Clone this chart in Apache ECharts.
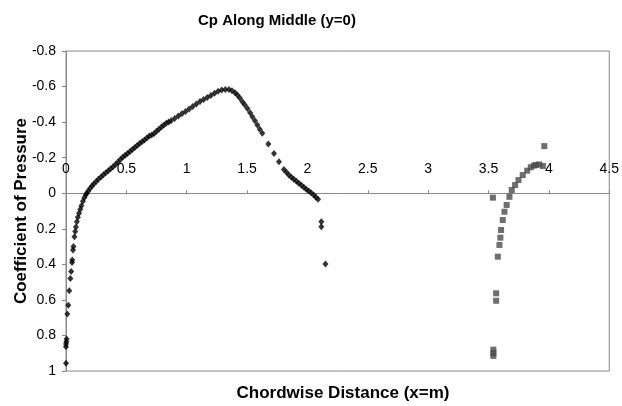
<!DOCTYPE html>
<html>
<head>
<meta charset="utf-8">
<script src="https://cdn.jsdelivr.net/npm/echarts@6/dist/echarts.min.js"></script>
<style>
  html, body { margin: 0; padding: 0; background: #fff; }
  #chart { width: 622px; height: 406px; }
</style>
</head>
<body>
<div id="chart"></div>
<script>
// Cp along the middle line, main body (x, Cp)
const bodyPoints = [
  [0.0, 0.957], [0.0, 0.863], [0.0, 0.848], [0.003, 0.835], [0.005, 0.82],
  [0.011, 0.68], [0.019, 0.63], [0.027, 0.548], [0.036, 0.479], [0.043, 0.44],
  [0.05, 0.39], [0.052, 0.376], [0.058, 0.32], [0.062, 0.30], [0.07, 0.245],
  [0.076, 0.216], [0.082, 0.19], [0.09, 0.16], [0.098, 0.135], [0.108, 0.113],
  [0.118, 0.09], [0.128, 0.07], [0.14, 0.045], [0.152, 0.025], [0.163, 0.01],
  [0.172, 0.0], [0.185, -0.012], [0.2, -0.028], [0.215, -0.04], [0.23, -0.052],
  [0.25, -0.066], [0.268, -0.078], [0.29, -0.091], [0.31, -0.104], [0.33, -0.115],
  [0.35, -0.126], [0.37, -0.137], [0.39, -0.149], [0.41, -0.162], [0.43, -0.176],
  [0.45, -0.19], [0.47, -0.202], [0.49, -0.213], [0.51, -0.223], [0.53, -0.235],
  [0.55, -0.246], [0.57, -0.257], [0.59, -0.268], [0.61, -0.279], [0.63, -0.29],
  [0.65, -0.3], [0.67, -0.31], [0.69, -0.322], [0.71, -0.328], [0.73, -0.336],
  [0.75, -0.348], [0.77, -0.36], [0.79, -0.372], [0.81, -0.383], [0.83, -0.393],
  [0.85, -0.4], [0.87, -0.407], [0.9, -0.42], [0.93, -0.434], [0.96, -0.447],
  [0.99, -0.46], [1.02, -0.474], [1.05, -0.488], [1.08, -0.502], [1.11, -0.516],
  [1.14, -0.527], [1.17, -0.538], [1.2, -0.55], [1.23, -0.562], [1.26, -0.573],
  [1.29, -0.58], [1.32, -0.584], [1.35, -0.583], [1.375, -0.577], [1.4, -0.565],
  [1.42, -0.552], [1.44, -0.535], [1.461, -0.515], [1.48, -0.497], [1.503, -0.477],
  [1.525, -0.452], [1.544, -0.43], [1.565, -0.407], [1.585, -0.384], [1.605, -0.36],
  [1.626, -0.337], [1.676, -0.277], [1.723, -0.224], [1.764, -0.177], [1.805, -0.134],
  [1.826, -0.118], [1.846, -0.102], [1.867, -0.09], [1.887, -0.078], [1.908, -0.067],
  [1.929, -0.056], [1.95, -0.045], [1.97, -0.033], [1.99, -0.022], [2.011, -0.012],
  [2.03, -0.002], [2.052, 0.01], [2.07, 0.022], [2.088, 0.034],
  [2.115, 0.16], [2.115, 0.188], [2.149, 0.398]
];

// Cp along the middle line, tail piece (x, Cp)
const tailPoints = [
  [3.54, 0.88], [3.54, 0.9], [3.54, 0.915], [3.536, 0.025],
  [3.563, 0.563], [3.563, 0.605], [3.577, 0.357], [3.59, 0.291], [3.598, 0.25],
  [3.604, 0.207], [3.618, 0.151], [3.632, 0.104], [3.65, 0.066], [3.673, 0.02],
  [3.692, -0.018], [3.72, -0.046], [3.748, -0.074], [3.783, -0.102], [3.82, -0.127],
  [3.85, -0.146], [3.875, -0.155], [3.893, -0.159], [3.92, -0.162], [3.95, -0.153],
  [3.962, -0.265]
];

const chart = echarts.init(document.getElementById('chart'));
const font = 'Liberation Sans, Arial, sans-serif';

// plot area
const gridTop = 51, gridBottom = 35, gridHeight = 406 - gridTop - gridBottom;
const yMin = -0.8, yMax = 1;
// x axis sits on Cp = 0 (y axis is inverted)
const zeroFromBottom = gridHeight * (yMax - 0) / (yMax - yMin);

chart.setOption({
  animation: false,
  textStyle: { fontFamily: font },
  grid: {
    left: 66, right: 10, top: gridTop, bottom: gridBottom,
    show: true, borderColor: '#888', borderWidth: 1
  },
  xAxis: {
    type: 'value',
    min: 0, max: 4.5, interval: 0.5,
    offset: -zeroFromBottom,
    axisLine: { onZero: false, lineStyle: { color: '#888' } },
    axisTick: { inside: true, length: 3, lineStyle: { color: '#888' } },
    axisLabel: { inside: true, margin: 17, fontSize: 14, color: '#000', fontFamily: font },
    splitLine: { show: false }
  },
  yAxis: {
    type: 'value',
    inverse: true,
    min: yMin, max: yMax, interval: 0.2,
    name: 'Coefficient of Pressure',
    nameLocation: 'middle',
    nameGap: 36,
    nameMoveOverlap: false,
    nameTextStyle: { fontSize: 17, fontWeight: 'bold', color: '#000', fontFamily: font },
    axisLine: { show: true, onZero: false, lineStyle: { color: '#888' } },
    axisTick: { show: true, length: 4, lineStyle: { color: '#888' } },
    axisLabel: { margin: 10, fontSize: 14, color: '#000', fontFamily: font },
    splitLine: { show: false }
  },
  graphic: [
    {
      type: 'text',
      x: 277, y: 21,
      style: {
        text: 'Cp Along Middle (y=0)',
        fontSize: 15, fontWeight: 'bold', fill: '#000', fontFamily: font,
        textAlign: 'center', textVerticalAlign: 'middle'
      }
    },
    {
      type: 'text',
      x: 343, y: 393,
      style: {
        text: 'Chordwise Distance (x=m)',
        fontSize: 17, fontWeight: 'bold', fill: '#000', fontFamily: font,
        textAlign: 'center', textVerticalAlign: 'middle'
      }
    }
  ],
  series: [
    {
      type: 'scatter',
      data: bodyPoints,
      symbol: 'diamond',
      symbolSize: [6, 7],
      itemStyle: { color: '#000' }
    },
    {
      type: 'scatter',
      data: tailPoints,
      symbol: 'rect',
      symbolSize: 6,
      itemStyle: { color: '#4a4a4a' }
    }
  ]
});
</script>
</body>
</html>
